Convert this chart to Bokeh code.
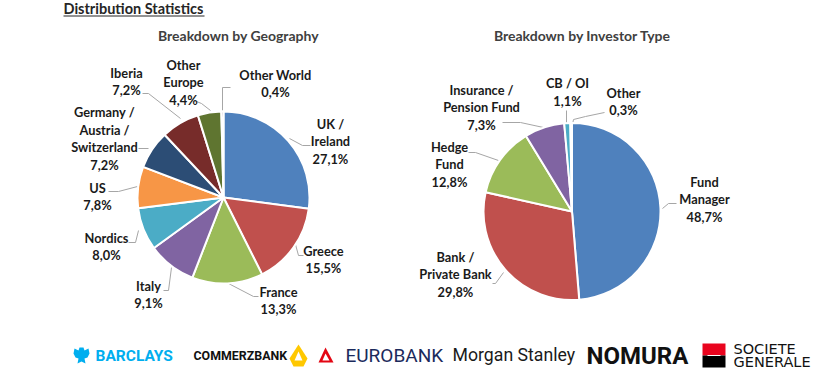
import numpy as np
from bokeh.plotting import figure
from bokeh.models import Range1d, ColumnDataSource
from bokeh.core.properties import value
from bokeh.embed import file_html
from bokeh.resources import INLINE

# ---------------- data ----------------
geo_categories = ["UK /\nIreland", "Greece", "France", "Italy", "Nordics", "US",
                  "Germany /\nAustria /\nSwitzerland", "Iberia", "Other\nEurope", "Other World"]
geo_values = [27.1, 15.5, 13.3, 9.1, 8.0, 7.8, 7.2, 7.2, 4.4, 0.4]
geo_colors = ["#4F81BD", "#C0504D", "#9BBB59", "#8064A2", "#4BACC6", "#F79646",
              "#2C4D75", "#772C2A", "#5F7530", "#4D3B62"]

inv_categories = ["Fund\nManager", "Bank /\nPrivate Bank", "Hedge\nFund",
                  "Insurance /\nPension Fund", "CB / OI", "Other"]
inv_values = [48.7, 29.8, 12.8, 7.3, 1.1, 0.3]
inv_colors = ["#4F81BD", "#C0504D", "#9BBB59", "#8064A2", "#4BACC6", "#F79646"]

page_title = "Distribution Statistics"
geo_title = "Breakdown by Geography"
inv_title = "Breakdown by Investor Type"

# ---------------- layout (image pixel coordinates) ----------------
H = 389
def Y(v):
    if isinstance(v, (list, tuple)):
        return [H - t for t in v]
    return H - v

geo_center = (223, 197); geo_r = 86
inv_center = (571.5, 211); inv_r = 88.5

geo_lab_x = [330, 323, 278, 148, 106, 97, 104, 126, 183, 275]
geo_lab_y = [141, 259, 300, 294, 246, 196, 138, 81, 82, 83]
inv_lab_x = [704, 455, 449, 481, 567, 623]
inv_lab_y = [199, 274, 164, 107, 91.5, 101]

geo_leaders = [
    [(289, 138), (302, 145), (310, 145)],
    [(295, 244), (298, 255), (303, 255)],
    [(228, 283), (253, 296), (258, 296)],
    [(171, 267), (168, 290), (163, 290)],
    [(138, 230), (135, 242), (128, 242)],
    [(137, 186), (118, 191), (108, 191)],
    [(148, 148), (138, 148)],
    [(142, 93), (148, 93), (180, 118)],
    [(196, 101), (201, 103), (210, 110)],
    [(230, 87), (222, 87), (222, 110)],
]
inv_leaders = [
    [(662, 208), (668, 203), (676, 203)],
    [(503, 272), (495, 283), (492, 283)],
    [(468, 152), (475, 152), (498, 160)],
    [(502, 122), (520, 122), (543, 127)],
    [(566, 110), (566, 123)],
    [(604, 112), (585, 116), (573, 119), (572, 124)],
]

p = figure(width=823, height=373, x_range=Range1d(0, 823), y_range=Range1d(H - 373, H),
           x_axis_type=None, y_axis_type=None, output_backend="svg",
           toolbar_location=None, min_border=0)
p.outline_line_color = None
p.background_fill_color = "white"
p.border_fill_color = "white"

LABEL_FONT = value("Lato")
LABEL_COLOR = "#1a1a1a"

def pie(center, r, values, colors):
    v = np.array(values, dtype=float)
    frac = v / v.sum()
    cum = np.concatenate([[0.0], np.cumsum(frac)])
    start = np.pi / 2 - 2 * np.pi * cum[1:]
    end = np.pi / 2 - 2 * np.pi * cum[:-1]
    src = ColumnDataSource(dict(start=start, end=end, color=colors))
    p.wedge(x=center[0], y=Y(center[1]), radius=r, start_angle="start", end_angle="end",
            fill_color="color", line_color="white", line_width=2, source=src)

def labels(cats, vals, lx, ly):
    texts = [c + "\n" + f"{v:.1f}".replace(".", ",") + "%" for c, v in zip(cats, vals)]
    src = ColumnDataSource(dict(x=lx, y=Y(list(ly)), t=texts))
    p.text(x="x", y="y", text="t", source=src, text_align="center", text_baseline="middle",
           text_font=LABEL_FONT, text_font_style="bold", text_font_size="12.8px",
           text_color=LABEL_COLOR, text_line_height=1.1)

def leaders(lines):
    xs = [[pt[0] for pt in ln] for ln in lines]
    ys = [[H - pt[1] for pt in ln] for ln in lines]
    p.multi_line(xs=xs, ys=ys, line_color="#A6A6A6", line_width=1)

leaders(geo_leaders)
leaders(inv_leaders)
pie(geo_center, geo_r, geo_values, geo_colors)
pie(inv_center, inv_r, inv_values, inv_colors)
labels(geo_categories, geo_values, geo_lab_x, geo_lab_y)
labels(inv_categories, inv_values, inv_lab_x, inv_lab_y)

# titles
p.text(x=[238, 582], y=Y([35, 35]), text=[geo_title, inv_title], text_align="center",
       text_baseline="middle", text_font=LABEL_FONT, text_font_style="bold",
       text_font_size="14px", text_color="#404040")
p.text(x=[63], y=Y([8]), text=[page_title], text_align="left", text_baseline="middle",
       text_font=LABEL_FONT, text_font_style="bold", text_font_size="14.5px",
       text_color="#262626")
p.line(x=[63, 204], y=Y([15.5, 15.5]), line_color="#262626", line_width=1.2)

# ---------------- bank logos (as text + simple shapes) ----------------
# Barclays eagle
eagle = [(-2, -8), (2, -8), (3, -5), (7, -7), (8, -2), (6, 2), (3, 3), (4, 8), (0, 6),
         (-4, 8), (-3, 3), (-6, 2), (-8, -2), (-7, -7), (-3, -5)]
p.patch(x=[81 + a for a, b in eagle], y=[H - (355 + b) for a, b in eagle],
        fill_color="#00AEEF", line_color=None)
p.text(x=[95], y=Y([355]), text=["BARCLAYS"], text_align="left", text_baseline="middle",
       text_font=value("Roboto"), text_font_style="bold", text_font_size="15.5px",
       text_color="#00AEEF")
# Commerzbank
p.text(x=[193], y=Y([355]), text=["COMMERZBANK"], text_align="left", text_baseline="middle",
       text_font=value("Roboto"), text_font_style="bold", text_font_size="12.4px",
       text_color="#111111")
cb_out = [(298, 344), (307, 358), (303, 366), (293, 366), (289, 358)]
cb_in = [(298, 351), (302, 360), (294, 360)]
p.patch(x=[a for a, b in cb_out], y=[H - b for a, b in cb_out], fill_color="#FFC800", line_color=None)
p.patch(x=[a for a, b in cb_in], y=[H - b for a, b in cb_in], fill_color="white", line_color=None)
# Eurobank
eb_out = [(318, 362), (325, 347), (333, 362)]
eb_in = [(322, 360), (325, 353), (329, 360)]
p.patch(x=[a for a, b in eb_out], y=[H - b for a, b in eb_out], fill_color="#E30613", line_color=None)
p.patch(x=[a for a, b in eb_in], y=[H - b for a, b in eb_in], fill_color="white", line_color=None)
p.text(x=[345], y=Y([355]), text=["EUROBANK"], text_align="left", text_baseline="middle",
       text_font=value("Roboto"), text_font_style="normal", text_font_size="19px",
       text_color="#1B2A5C")
# Morgan Stanley
p.text(x=[452], y=Y([354]), text=["Morgan Stanley"], text_align="left", text_baseline="middle",
       text_font=value("Roboto"), text_font_size="17.7px", text_color="#1a1a1a")
# Nomura
p.text(x=[586], y=Y([355]), text=["NOMURA"], text_align="left", text_baseline="middle",
       text_font=value("Roboto"), text_font_style="bold", text_font_size="24px",
       text_color="#111111")
# Societe Generale
p.quad(left=[702], right=[725], top=[H - 343], bottom=[H - 355], fill_color="#E9041E", line_color=None)
p.quad(left=[702], right=[725], top=[H - 355], bottom=[H - 367], fill_color="#000000", line_color=None)
p.quad(left=[707], right=[720], top=[H - 354.5], bottom=[H - 355.5], fill_color="white", line_color=None)
p.text(x=[733, 733], y=Y([348, 361.5]), text=["SOCIETE", "GENERALE"], text_align="left",
       text_baseline="middle", text_font=value("DejaVu Sans"), text_font_size="14.5px",
       text_color="#111111")

open("out.html", "w").write(file_html(p, INLINE))
